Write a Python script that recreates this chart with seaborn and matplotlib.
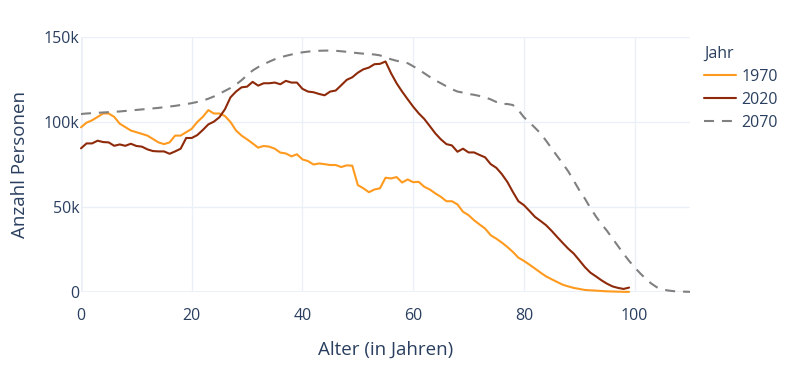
import matplotlib
matplotlib.use("Agg")
import matplotlib.pyplot as plt
import seaborn as sns
import pandas as pd

# Bevölkerung nach Alter (in Tausend)
alter_1970 = list(range(0, 100))
werte_1970 = [
    96.9, 99.6, 101, 103, 105, 105, 103, 99, 97, 95,
    94, 93, 92, 90, 88, 87, 88, 92, 92, 94,
    96, 100, 103, 107, 105, 105, 103.5, 100, 95, 92,
    89.8, 87.4, 84.9, 85.9, 85.5, 84.3, 82, 81.5, 79.8, 81,
    78, 77, 75, 75.6, 75.2, 74.7, 74.7, 73.5, 74.5, 74.3,
    62.9, 61, 58.7, 60.3, 61, 67.2, 66.8, 67.6, 64.4, 66.2,
    64.6, 64.8, 61.9, 60.3, 58, 56, 53.4, 53.4, 51.5, 47.2,
    45.2, 42.2, 39.7, 37.3, 33.4, 31.4, 29.1, 26.5, 23.6, 20.2,
    18.3, 16.1, 13.8, 11.4, 9.2, 7.5, 5.9, 4.3, 3.3, 2.4,
    1.8, 1.2, 1.0, 0.8, 0.6, 0.4, 0.3, 0.2, 0.1, 0.1,
]

alter_2020 = list(range(0, 100))
werte_2020 = [
    84.5, 87.4, 87.4, 89, 88.2, 88, 86, 86.8, 86, 87.2,
    85.9, 85.5, 83.9, 82.9, 82.7, 82.7, 81.3, 82.7, 84.3, 90.6,
    90.6, 92.3, 95.3, 98.6, 100.2, 102.8, 107.5, 114.5, 117.9, 120.4,
    120.8, 123.6, 121.4, 122.8, 122.8, 123.2, 122.2, 124.2, 123.2, 123.2,
    119.5, 117.9, 117.5, 116.5, 115.7, 117.9, 118.5, 121.6, 124.8, 126.3,
    129, 131, 132, 134, 134.2, 135.6, 128.7, 122.8, 117.9, 113.4,
    109, 105.1, 101.8, 97.6, 93.3, 89.8, 87, 86.2, 82.5, 84.3,
    82.1, 82.1, 80.6, 79.2, 75.2, 73.1, 69.4, 64.8, 58.9, 53.4,
    51.1, 47.7, 44.2, 41.8, 39.3, 36, 32.4, 28.9, 25.5, 22.6,
    18.7, 14.7, 11.4, 9.2, 6.9, 4.9, 3.3, 2.4, 1.8, 2.6,
]

alter_2070 = list(range(0, 111))
werte_2070 = [
    104.7, 105, 105.2, 105.4, 105.6, 105.8, 106, 106.2, 106.5, 106.8,
    107.1, 107.4, 107.7, 108, 108.3, 108.7, 109.1, 109.5, 110, 110.5,
    111.1, 111.8, 112.6, 113.7, 115, 116.6, 118.3, 120, 122, 124.6,
    127.5, 130.3, 132.3, 134, 135.5, 136.9, 138, 138.9, 139.7, 140.4,
    141, 141.4, 141.7, 141.9, 142, 142, 141.9, 141.6, 141.3, 140.9,
    140.5, 140.2, 140, 139.7, 139.2, 138, 136.9, 136, 135.4, 134.6,
    132.8, 130.8, 128.7, 126.5, 124.5, 122.8, 121, 119.3, 117.9, 117.3,
    116.5, 116, 115.3, 114.5, 113.3, 111.8, 110.6, 110.6, 110, 107,
    102.8, 99.8, 96.6, 93.3, 89, 84.5, 80, 75.6, 71, 65.5,
    59.9, 55, 49.5, 44.5, 40, 36, 31.5, 27, 22.5, 18.3,
    14.5, 11, 7.8, 5, 2.8, 1.6, 0.9, 0.5, 0.3, 0.2, 0.1,
]

jahre = ["1970", "2020", "2070"]
farben = {"1970": "#ff9a1f", "2020": "#8e2a0a", "2070": "#808080"}

df = pd.concat([
    pd.DataFrame({"Alter": alter_1970, "Anzahl": [v * 1000 for v in werte_1970], "Jahr": "1970"}),
    pd.DataFrame({"Alter": alter_2020, "Anzahl": [v * 1000 for v in werte_2020], "Jahr": "2020"}),
    pd.DataFrame({"Alter": alter_2070, "Anzahl": [v * 1000 for v in werte_2070], "Jahr": "2070"}),
])

sns.set_style("white")
plt.rcParams["font.family"] = ["Open Sans", "DejaVu Sans"]
textfarbe = "#2a3f5f"
gridfarbe = "#ebf0f8"

fig = plt.figure(figsize=(7.86, 3.66), dpi=100)
ax = fig.add_axes([81 / 786, 1 - 292 / 366, 609 / 786, 255 / 366])

sns.lineplot(data=df, x="Alter", y="Anzahl", hue="Jahr", style="Jahr",
             hue_order=jahre, style_order=jahre, palette=farben,
             dashes={"1970": "", "2020": "", "2070": (4.8, 3.8)},
             linewidth=1.5, ax=ax, clip_on=False, zorder=3)

ax.set_xlim(0, 110)
ax.set_ylim(0, 150000)
ax.set_xticks([0, 20, 40, 60, 80, 100])
ax.set_yticks([0, 50000, 100000, 150000])
ax.set_yticklabels(["0", "50k", "100k", "150k"])
ax.grid(True, color=gridfarbe, linewidth=1)
ax.axhline(0, color=gridfarbe, linewidth=2, zorder=1)
ax.axvline(0, color=gridfarbe, linewidth=2, zorder=1)
for s in ax.spines.values():
    s.set_visible(False)
ax.tick_params(axis="both", length=0, labelsize=11.5, colors=textfarbe)
ax.tick_params(axis="x", pad=11.5)
ax.tick_params(axis="y", pad=1)

ax.set_xlabel("Alter (in Jahren)", fontsize=13.5, color=textfarbe, labelpad=12)
ax.set_ylabel("Anzahl Personen", fontsize=13.5, color=textfarbe, labelpad=11)

leg = ax.legend(title="Jahr", loc="upper left",
                bbox_to_anchor=(704 / 786, 1 - 46 / 366), bbox_transform=fig.transFigure,
                frameon=False, fontsize=11.5, title_fontsize=11.5,
                handlelength=2.0, handletextpad=0.35, labelspacing=0.44,
                borderaxespad=0, borderpad=0)
leg._legend_box.align = "left"
for t in leg.get_texts():
    t.set_color(textfarbe)
leg.get_title().set_color(textfarbe)

fig.savefig("out.png", dpi=100)
